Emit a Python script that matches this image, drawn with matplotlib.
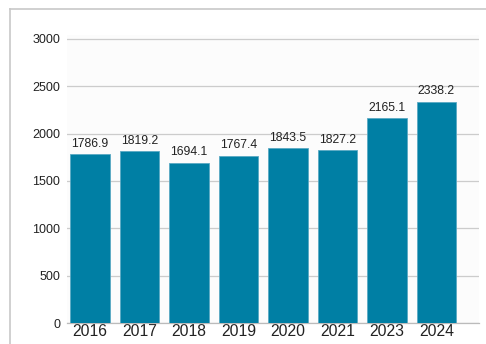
import matplotlib
matplotlib.use("Agg")
import matplotlib.pyplot as plt
from matplotlib.lines import Line2D

plt.rcParams['font.family'] = ['Liberation Sans', 'DejaVu Sans']

years = ['2016', '2017', '2018', '2019', '2020', '2021', '2023', '2024']
values = [1786.9, 1819.2, 1694.1, 1767.4, 1843.5, 1827.2, 2165.1, 2338.2]
yticks = [0, 500, 1000, 1500, 2000, 2500, 3000]

W, H = 486, 344
fig = plt.figure(figsize=(W / 100, H / 100), dpi=100)
fig.patch.set_facecolor('white')

# plot area in pixels: left 67, right 479, zero at y=323, top at y=35
left, right, y0, ytop = 67, 479, 323, 35
ax = fig.add_axes([left / W, (H - y0) / H, (right - left) / W, (y0 - ytop) / H])
ax.set_facecolor('#fcfcfc')

x = range(len(years))
ax.bar(x, values, width=0.8, color='#007fa4', edgecolor='#5aa9c4', linewidth=0.6, zorder=3)
for xi, v in zip(x, values):
    ax.text(xi, v + 45, f'{v:.1f}', ha='center', va='bottom', fontsize=8.8, color='#222222')

ax.set_xlim(-0.465, 7.86)
ax.set_ylim(0, 3000 * (y0 - ytop) / (y0 - 39))
ax.set_yticks(yticks)
ax.set_yticklabels([str(t) for t in yticks], fontsize=9, color='#222222')
ax.set_xticks(list(x))
ax.set_xticklabels(years, fontsize=11.3, color='#222222')
ax.tick_params(axis='both', length=0)
ax.tick_params(axis='y', pad=5)
ax.tick_params(axis='x', pad=1)
ax.grid(axis='y', color='#cccccc', linewidth=0.9, zorder=0)
for s in ['top', 'right', 'left']:
    ax.spines[s].set_visible(False)
ax.spines['bottom'].set_color('#bbbbbb')
ax.spines['bottom'].set_linewidth(0.9)

# outer frame, top and left edges
fig.add_artist(Line2D([10 / W, 1], [(H - 9) / H, (H - 9) / H], color='#c8c8c8', linewidth=1.2))
fig.add_artist(Line2D([10 / W, 10 / W], [0, (H - 9) / H], color='#c8c8c8', linewidth=1.2))

fig.savefig('out.png', dpi=100)
